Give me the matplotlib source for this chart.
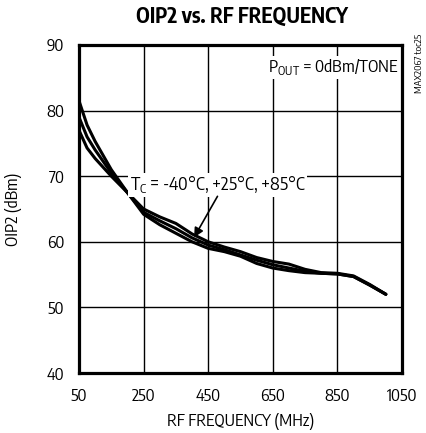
import matplotlib
matplotlib.use("Agg")
import matplotlib.pyplot as plt

FONT = 'Encode Sans Condensed'
plt.rcParams['font.family'] = [FONT, 'DejaVu Sans']
plt.rcParams['mathtext.fontset'] = 'custom'
plt.rcParams['mathtext.rm'] = FONT

freq = [50, 75, 100, 150, 200, 250, 300, 350, 400, 450, 500, 550, 600, 650, 700, 750, 800, 850, 900, 950, 1000]
oip2_a = [81.5, 77.8, 75.3, 71.0, 67.5, 65.0, 63.8, 62.8, 61.2, 60.0, 59.2, 58.5, 57.6, 57.0, 56.6, 55.8, 55.3, 55.2, 54.8, 53.5, 52.0]
oip2_b = [79.0, 76.0, 74.0, 70.5, 67.5, 64.5, 63.2, 62.0, 60.6, 59.5, 58.8, 58.0, 57.2, 56.5, 56.0, 55.5, 55.2, 55.1, 54.7, 53.4, 52.0]
oip2_c = [77.0, 74.3, 72.7, 70.0, 67.5, 64.2, 62.6, 61.3, 60.0, 59.0, 58.5, 57.8, 56.7, 56.0, 55.6, 55.3, 55.2, 55.1, 54.7, 53.4, 52.0]
xticks = [50, 250, 450, 650, 850, 1050]
yticks = [40, 50, 60, 70, 80, 90]

fig = plt.figure(figsize=(4.26, 4.33), dpi=100)
ax = fig.add_axes([79/426, 1-373/433, (402-79)/426, (373-45)/433])

for s in (oip2_a, oip2_b, oip2_c):
    ax.plot(freq, s, color='black', lw=2.2, solid_capstyle='round', zorder=3)

ax.set_xlim(50, 1050)
ax.set_ylim(40, 90)
ax.set_xticks(xticks)
ax.set_yticks(yticks)
ax.grid(True, color='black', lw=1.0)
ax.tick_params(length=0, labelsize=12, pad=10.5)
for sp in ax.spines.values():
    sp.set_linewidth(2.3)

fig.text(240.5/426, 1-422/433, 'RF FREQUENCY (MHz)', ha='center', va='center', fontsize=12)
fig.text(14/426, 1-209/433, 'OIP2 (dBm)', ha='center', va='center', rotation=90, fontsize=12)
fig.text(241.5/426, 1-17/433, 'OIP2 vs. RF FREQUENCY', ha='center', va='center',
         fontsize=15, fontweight='bold')

ax.text(1040, 86.6, r'P$_{\mathrm{OUT}}$ = 0dBm/TONE', ha='right', va='center',
        fontsize=12.2, bbox=dict(facecolor='white', edgecolor='none', pad=1), zorder=4)
ax.text(479, 68.7, r'T$_{\mathrm{C}}$ = -40°C, +25°C, +85°C', ha='center', va='center',
        fontsize=12.8, bbox=dict(facecolor='white', edgecolor='none', pad=1), zorder=4)
ax.annotate('', xy=(402, 60.3), xytext=(483, 67.3),
            arrowprops=dict(arrowstyle='-|>', color='black', lw=1.2, mutation_scale=14), zorder=5)

fig.text(420/426, 1-63/433, 'MAX2067 toc25', rotation=90, ha='center', va='center', fontsize=7)

fig.savefig('out.png', dpi=100)
